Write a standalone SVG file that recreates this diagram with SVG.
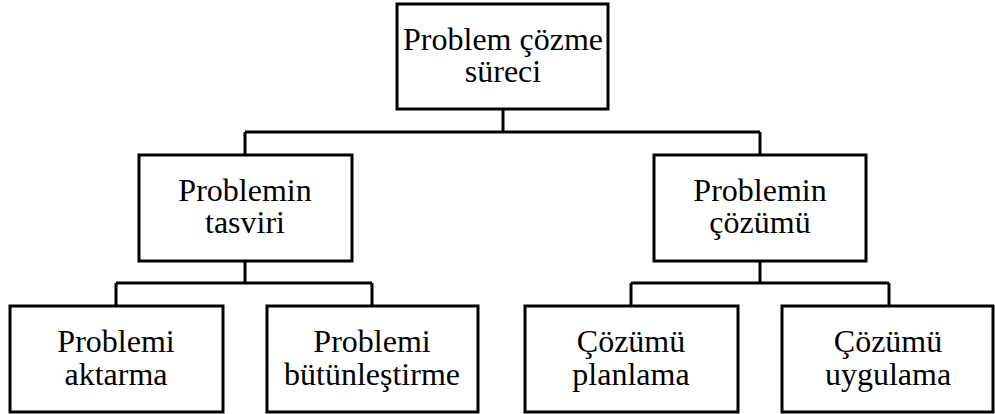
<svg xmlns="http://www.w3.org/2000/svg" width="995" height="414" viewBox="0 0 995 414">
<style>
rect{fill:#fff;stroke:#000;stroke-width:3}
text{font-family:"Liberation Serif","Times New Roman",serif;font-size:32px;fill:#000;text-anchor:middle}
.c{fill:none;stroke:#000;stroke-width:3}
</style>
<rect x="0" y="0" width="995" height="414" style="stroke:none"/>
<g id="connectors">
<path class="c" d="M503 109V132M245 132H760M245 132V155M760 132V155"/>
<path class="c" d="M245 261V283M116 283H372M116 283V306M372 283V306"/>
<path class="c" d="M760 261V283M631 283H889M631 283V306M889 283V306"/>
</g>
<g id="n0"><rect x="397" y="4" width="211" height="105"/><text x="503" y="50">Problem çözme</text><text x="503" y="82">süreci</text></g>
<g id="n1"><rect x="139" y="155" width="213" height="106"/><text x="245" y="201">Problemin</text><text x="245" y="233">tasviri</text></g>
<g id="n2"><rect x="654" y="155" width="212" height="106"/><text x="760" y="201">Problemin</text><text x="760" y="233">çözümü</text></g>
<g id="n3"><rect x="10" y="306" width="213" height="106"/><text x="116" y="352">Problemi</text><text x="116" y="385">aktarma</text></g>
<g id="n4"><rect x="267" y="306" width="211" height="106"/><text x="372" y="352">Problemi</text><text x="372" y="385">bütünleştirme</text></g>
<g id="n5"><rect x="525" y="306" width="213" height="106"/><text x="631" y="352">Çözümü</text><text x="631" y="385">planlama</text></g>
<g id="n6"><rect x="782" y="306" width="211" height="106"/><text x="888" y="352">Çözümü</text><text x="888" y="385">uygulama</text></g>
</svg>
